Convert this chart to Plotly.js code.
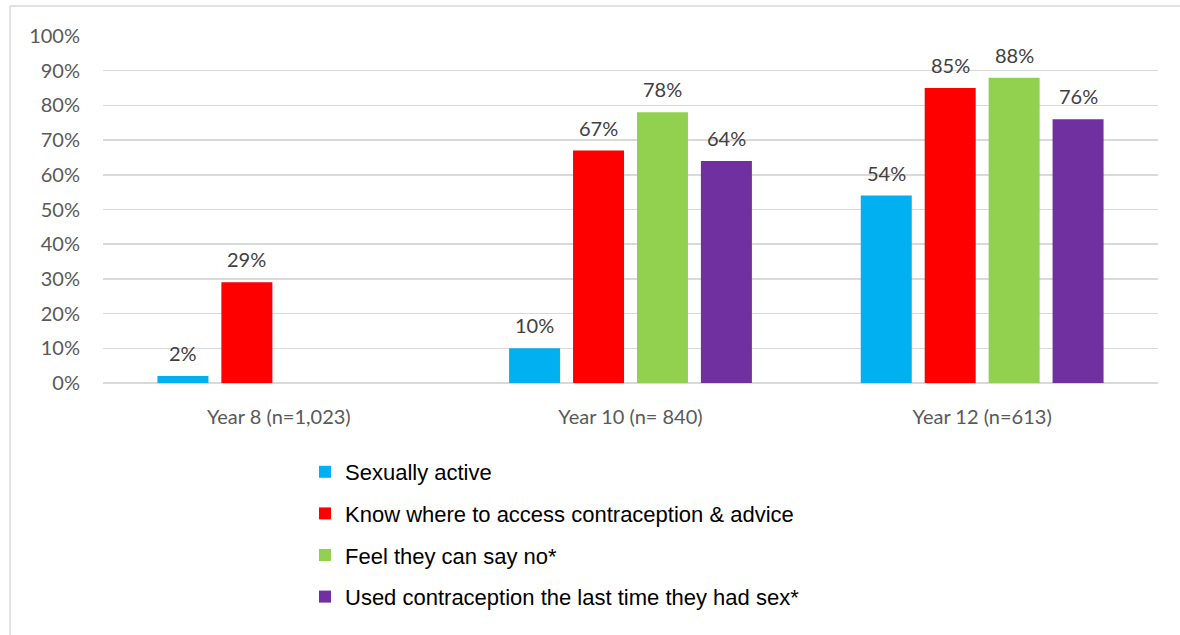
<!DOCTYPE html>
<html>
<head>
<meta charset="utf-8">
<script src="https://cdn.plot.ly/plotly-3.0.1.min.js"></script>
<style>
html,body{margin:0;padding:0;background:#fff;}
#chart{width:1180px;height:635px;}
</style>
</head>
<body>
<div id="chart"></div>
<script>
const categories = ["Year 8 (n=1,023)", "Year 10 (n= 840)", "Year 12 (n=613)"];
const seriesNames = [
  "Sexually active",
  "Know where to access contraception & advice",
  "Feel they can say no*",
  "Used contraception the last time they had sex*"
];
const sexuallyActive = [2, 10, 54];
const knowWhere = [29, 67, 85];
const canSayNo = [null, 78, 88];
const usedContraception = [null, 64, 76];
const seriesColors = ["#00b0f0", "#ff0000", "#92d050", "#7030a0"];
const yTickVals = [0, 10, 20, 30, 40, 50, 60, 70, 80, 90, 100];
const yTickText = ["0%", "10%", "20%", "30%", "40%", "50%", "60%", "70%", "80%", "90%", "100%"];

const FONT = "Lato, 'Open Sans', sans-serif";
const barWidth = 0.145;      // in category units
const slotWidth = 0.1818;
const firstOffset = -2 * slotWidth + (slotWidth - barWidth) / 2;

const allValues = [sexuallyActive, knowWhere, canSayNo, usedContraception];
const traces = allValues.map((vals, i) => ({
  type: "bar",
  name: seriesNames[i],
  x: categories,
  y: vals,
  width: barWidth,
  offset: firstOffset + i * slotWidth,
  marker: {color: seriesColors[i]},
  legendgroup: "g" + i,
  hoverinfo: "skip"
}));

const annotations = [];
allValues.forEach((vals, i) => {
  vals.forEach((v, c) => {
    if (v === null) return;
    annotations.push({
      xref: "x", yref: "y",
      x: c + firstOffset + i * slotWidth + barWidth / 2,
      y: v,
      text: v + "%",
      showarrow: false,
      yanchor: "bottom",
      yshift: 9,
      font: {family: FONT, size: 20, color: "#404040"}
    });
  });
});

const layout = {
  width: 1180,
  height: 635,
  margin: {l: 103, r: 22, t: 36, b: 252, autoexpand: false},
  paper_bgcolor: "#ffffff",
  plot_bgcolor: "#ffffff",
  barmode: "overlay",
  showlegend: true,
  font: {family: FONT, color: "#595959", size: 20},
  xaxis: {
    type: "category",
    range: [-0.5, 2.5],
    showgrid: false,
    showline: false,
    zeroline: false,
    ticks: "",
    tickangle: 0,
    ticklabelstandoff: 20,
    tickfont: {family: FONT, size: 20, color: "#595959"}
  },
  yaxis: {
    range: [0, 100],
    tickvals: yTickVals,
    ticktext: yTickText,
    showgrid: true,
    gridcolor: "#d9d9d9",
    gridwidth: 1.5,
    zeroline: true,
    zerolinecolor: "#d9d9d9",
    zerolinewidth: 1.5,
    showline: false,
    ticks: "",
    ticklabelstandoff: 22,
    tickfont: {family: FONT, size: 20, color: "#595959"}
  },
  legend: {
    orientation: "v",
    xref: "container",
    yref: "container",
    x: 305 / 1180,
    y: 1 - 451 / 635,
    xanchor: "left",
    yanchor: "top",
    tracegroupgap: 10,
    itemwidth: 30,
    font: {family: "'Liberation Sans', Arial, sans-serif", size: 22, color: "#000000"},
    bgcolor: "rgba(0,0,0,0)"
  },
  annotations: annotations,
  shapes: [
    {type: "line", xref: "paper", yref: "paper",
     x0: (10 - 103) / 1055, x1: (1180 - 103) / 1055,
     y0: (383 - 6) / 347, y1: (383 - 6) / 347,
     line: {color: "#d9d9d9", width: 1.5}},
    {type: "line", xref: "paper", yref: "paper",
     x0: (10 - 103) / 1055, x1: (10 - 103) / 1055,
     y0: (383 - 6) / 347, y1: (383 - 640) / 347,
     line: {color: "#d9d9d9", width: 1.5}}
  ]
};

Plotly.newPlot("chart", traces, layout, {displayModeBar: false, staticPlot: true});
</script>
</body>
</html>
